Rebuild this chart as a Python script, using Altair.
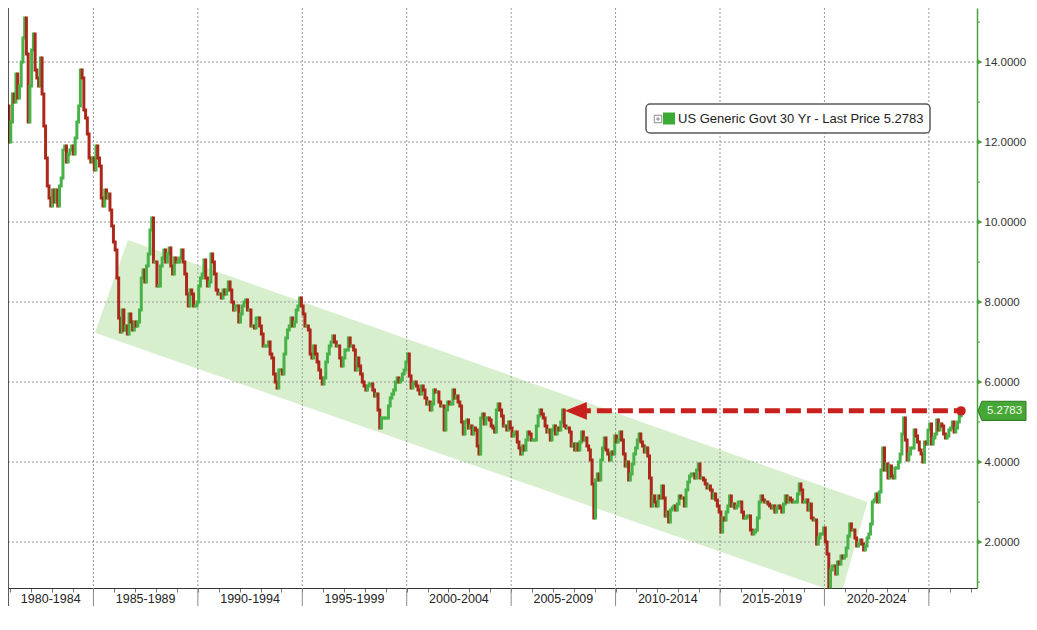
import altair as alt
import pandas as pd

# ---------------- data (monthly closes) ----------------
FIRST_MONTH = (1980, 12)
OPEN_FIRST = 12.9

C1980_84 = [12.0,
            12.5, 13.2, 13.0, 13.7, 13.1, 13.4, 14.0, 14.6, 15.1, 14.2, 12.5, 13.4,
            14.3, 14.7, 13.8, 13.6, 13.4, 14.1, 13.2, 12.4, 11.6, 10.9, 10.6, 10.4,
            10.8, 10.5, 10.8, 10.4, 10.9, 11.1, 11.8, 11.9, 11.5, 11.7, 11.8, 11.9,
            11.7, 12.1, 12.5, 12.9, 13.8, 13.6, 12.8, 12.6, 12.2, 11.6, 11.5, 11.6]
C1985_89 = [11.3, 11.9, 11.6, 11.4, 10.6, 10.4, 10.8, 10.6, 10.7, 10.3, 9.9, 9.5,
            9.3, 8.6, 7.6, 7.25, 7.8, 7.3, 7.4, 7.2, 7.7, 7.5, 7.3, 7.5,
            7.4, 7.5, 7.8, 8.6, 8.8, 8.5, 8.9, 9.2, 9.8, 10.1, 9.0, 9.0,
            8.4, 8.4, 8.9, 9.1, 9.3, 9.0, 9.2, 9.35, 8.9, 8.7, 9.1, 9.0,
            9.0, 9.1, 9.3, 9.0, 8.7, 8.2, 7.9, 8.3, 8.2, 7.9, 7.9, 8.0]
C1990_94 = [8.4, 8.6, 8.7, 9.05, 8.6, 8.4, 8.5, 9.2, 9.0, 8.7, 8.3, 8.2,
            8.2, 8.1, 8.3, 8.2, 8.3, 8.5, 8.3, 8.0, 7.8, 7.9, 7.9, 7.5,
            7.7, 7.9, 8.0, 8.05, 7.8, 7.8, 7.4, 7.4, 7.35, 7.6, 7.6, 7.4,
            7.2, 6.9, 6.9, 6.9, 7.0, 6.7, 6.6, 6.2, 6.0, 5.85, 6.3, 6.3,
            6.2, 6.7, 7.1, 7.3, 7.4, 7.6, 7.4, 7.5, 7.8, 7.9, 8.1, 7.9]
C1995_99 = [7.7, 7.4, 7.4, 7.3, 6.7, 6.6, 6.9, 6.7, 6.5, 6.3, 6.1, 5.95,
            6.1, 6.5, 6.7, 6.9, 7.0, 7.15, 7.0, 6.9, 6.9, 6.6, 6.4, 6.6,
            6.8, 6.8, 7.1, 6.9, 6.9, 6.8, 6.3, 6.6, 6.4, 6.2, 6.0, 5.9,
            5.8, 5.9, 5.95, 5.95, 5.8, 5.65, 5.7, 5.3, 4.85, 5.1, 5.1, 5.1,
            5.1, 5.4, 5.6, 5.7, 5.8, 6.0, 6.1, 6.0, 6.05, 6.2, 6.3, 6.5]
C2000_04 = [6.7, 6.15, 5.85, 5.95, 6.0, 5.9, 5.8, 5.7, 5.9, 5.8, 5.6, 5.45,
            5.5, 5.3, 5.45, 5.8, 5.75, 5.75, 5.5, 5.4, 5.4, 4.8, 5.3, 5.5,
            5.45, 5.45, 5.8, 5.6, 5.65, 5.5, 5.4, 5.0, 4.7, 5.0, 5.05, 4.85,
            4.9, 4.7, 4.85, 4.8, 4.4, 4.2, 5.1, 5.2, 4.95, 5.1, 5.1, 5.05,
            4.9, 4.85, 4.75, 5.3, 5.45, 5.3, 5.15, 4.9, 4.9, 4.8, 5.0, 4.85]
C2005_09 = [4.65, 4.7, 4.75, 4.5, 4.35, 4.2, 4.4, 4.3, 4.55, 4.75, 4.7, 4.55,
            4.55, 4.55, 4.9, 5.15, 5.3, 5.2, 5.1, 4.9, 4.75, 4.8, 4.55, 4.8,
            4.9, 4.7, 4.85, 4.8, 5.0, 5.3, 4.9, 4.85, 4.85, 4.75, 4.4, 4.45,
            4.3, 4.45, 4.3, 4.5, 4.75, 4.55, 4.6, 4.4, 4.3, 4.05, 3.45, 2.6,
            3.55, 3.7, 3.55, 4.05, 4.35, 4.6, 4.3, 4.2, 4.05, 4.25, 4.2, 4.65]
C2010_14 = [4.5, 4.55, 4.75, 4.55, 4.2, 3.9, 4.0, 3.55, 3.7, 3.95, 4.2, 4.35,
            4.55, 4.7, 4.5, 4.4, 4.25, 4.35, 4.15, 3.6, 2.9, 3.15, 3.0, 2.9,
            3.15, 3.1, 3.4, 3.1, 2.65, 2.75, 2.5, 2.8, 2.85, 2.9, 2.8, 2.95,
            3.15, 3.1, 3.1, 2.9, 3.3, 3.5, 3.65, 3.7, 3.7, 3.6, 3.8, 3.95,
            3.6, 3.6, 3.55, 3.45, 3.35, 3.4, 3.3, 3.1, 3.2, 3.05, 2.9, 2.75]
C2015_19 = [2.25, 2.6, 2.55, 2.75, 2.9, 3.15, 2.9, 2.95, 2.85, 2.9, 3.0, 3.0,
            2.75, 2.6, 2.6, 2.65, 2.65, 2.3, 2.2, 2.25, 2.3, 2.6, 3.0, 3.15,
            3.05, 3.0, 3.0, 2.95, 2.9, 2.85, 2.9, 2.75, 2.85, 2.9, 2.85, 2.75,
            2.95, 3.15, 3.0, 3.1, 3.05, 3.0, 3.0, 3.0, 3.2, 3.45, 3.3, 3.0,
            3.0, 3.05, 2.8, 2.95, 2.6, 2.55, 2.55, 1.95, 2.1, 2.2, 2.2, 2.35]
C2020_24 = [2.0, 1.7, 0.88, 1.3, 1.4, 1.4, 1.2, 1.5, 1.45, 1.65, 1.6, 1.65,
            1.85, 2.15, 2.45, 2.3, 2.3, 2.1, 1.9, 1.95, 2.05, 1.95, 1.8, 1.9,
            2.1, 2.2, 2.45, 3.0, 3.05, 3.2, 3.0, 3.25, 3.8, 4.35, 3.8, 3.95,
            3.6, 3.9, 3.65, 3.6, 3.85, 3.85, 4.0, 4.2, 4.7, 5.1, 4.55, 4.05,
            4.2, 4.35, 4.35, 4.8, 4.65, 4.5, 4.3, 4.2, 4.0, 4.5, 4.45, 4.8]
C2025_26 = [4.95, 4.45, 4.6, 4.7, 5.05, 4.8, 4.95, 4.9, 4.7, 4.6, 4.65, 4.8,
            4.85, 5.0, 4.75, 4.85, 5.0, 5.15, 5.2783]

LAST_PRICE = 5.2783
ARROW_FROM = 2008.1      # arrow head (year)
ARROW_TO = 2026.54       # red dot at the last price (year)

# channel corners (year, yield)
CH_LL = (1985.07, 7.23)
CH_TL = (1986.65, 9.55)
CH_BR = (2020.81, 0.70)
CH_TR = (2022.06, 3.00)

Y_MAJOR = [2, 4, 6, 8, 10, 12, 14]
Y_MINOR = [1, 3, 5, 7, 9, 11, 13, 15]
YEAR_TICKS = list(range(1981, 2028))
GRID_YEARS = [1985, 1990, 1995, 2000, 2005, 2010, 2015, 2020, 2025]
PERIODS = ["1980-1984", "1985-1989", "1990-1994", "1995-1999", "2000-2004",
           "2005-2009", "2010-2014", "2015-2019", "2020-2024"]
PERIOD_START = [1980, 1985, 1990, 1995, 2000, 2005, 2010, 2015, 2020]
LEGEND_TEXT = "US Generic Govt 30 Yr - Last Price 5.2783"
LABEL_TEXT = "5.2783"

# ---------------- build tables ----------------
W, H = 969, 580
X_MIN = 1980.91
X_MAX = X_MIN + W / 20.886
Y_MIN, Y_MAX = 0.85, 15.35

closes = (C1980_84 + C1985_89 + C1990_94 + C1995_99 + C2000_04 +
          C2005_09 + C2010_14 + C2015_19 + C2020_24 + C2025_26)
rows = []
prev = OPEN_FIRST
y0, m0 = FIRST_MONTH
for i, c in enumerate(closes):
    mi = (m0 - 1) + i
    t = y0 + mi // 12 + ((mi % 12) + 0.5) / 12
    rows.append({"t": t, "open": prev, "close": c,
                 "dir": "up" if c >= prev else "down"})
    prev = c
candles = pd.DataFrame(rows)


def on_line(p, q, x):
    return p[1] + (q[1] - p[1]) * (x - p[0]) / (q[0] - p[0])


channel = pd.DataFrame({
    "t": [CH_LL[0], CH_TL[0], CH_BR[0], CH_TR[0]],
    "hi": [CH_LL[1], CH_TL[1], on_line(CH_TL, CH_TR, CH_BR[0]), CH_TR[1]],
    "lo": [CH_LL[1], on_line(CH_LL, CH_BR, CH_TL[0]), CH_BR[1], CH_TR[1]],
})

periods = pd.DataFrame({
    "label": PERIODS,
    "c": [((max(s, X_MIN) + s + 5) / 2) for s in PERIOD_START],
})

XS = alt.Scale(domain=[X_MIN, X_MAX], nice=False, zero=False)
YS = alt.Scale(domain=[Y_MIN, Y_MAX], nice=False, zero=False)

GREEN_AX = "#4aa23c"
RED = "#c8201c"
FONT = "Liberation Sans"

X_AX = alt.Axis(values=YEAR_TICKS, labels=False, title=None, grid=False,
                tickSize=4, tickColor="#777777", domainColor="#333333",
                domainWidth=1)
Y_AX = alt.Axis(orient="right", values=Y_MAJOR, format=".4f", title=None,
                grid=False, labelFont=FONT, labelFontSize=11.5,
                labelColor="#333333", labelPadding=3, tickSize=4,
                tickColor=GREEN_AX, domainColor=GREEN_AX, domainWidth=1.5)

one = alt.Data(values=[{}])

area = alt.Chart(channel).mark_area(color="#d7efcd", clip=True).encode(
    x=alt.X("t:Q", scale=XS, axis=None),
    y=alt.Y("hi:Q", scale=YS, axis=None),
    y2="lo:Q",
)

hgrid = alt.Chart(pd.DataFrame({"v": Y_MAJOR})).mark_rule(
    color="#999999", strokeDash=[2, 2], strokeWidth=1).encode(
    y=alt.Y("v:Q", scale=YS, axis=None),
    x=alt.value(0), x2=alt.value(W),
)

vgrid = alt.Chart(pd.DataFrame({"yr": GRID_YEARS})).mark_rule(
    color="#999999", strokeDash=[2, 2], strokeWidth=1).encode(
    x=alt.X("yr:Q", scale=XS, axis=None),
    y=alt.value(0), y2=alt.value(H),
)

bars = alt.Chart(candles).mark_rule(strokeWidth=3, strokeCap="square").encode(
    x=alt.X("t:Q", scale=XS, axis=X_AX),
    y=alt.Y("open:Q", scale=YS, axis=Y_AX),
    y2="close:Q",
    color=alt.Color("dir:N", scale=alt.Scale(domain=["up", "down"],
                                             range=["#47b247", "#ab281b"]),
                    legend=None),
)

arrow_df = pd.DataFrame({"a": [ARROW_FROM], "b": [ARROW_TO], "v": [LAST_PRICE]})
arrow = alt.Chart(arrow_df).mark_rule(color=RED, strokeWidth=5,
                                      strokeDash=[15, 6]).encode(
    x=alt.X("a:Q", scale=XS, axis=None), x2="b:Q",
    y=alt.Y("v:Q", scale=YS, axis=None),
)
head = alt.Chart(arrow_df).mark_point(
    shape="M -1 0 L 1 -0.8 L 1 0.8 Z", size=484, filled=True,
    color=RED, opacity=1).encode(
    x=alt.X("a:Q", scale=XS, axis=None),
    y=alt.Y("v:Q", scale=YS, axis=None),
)
dot = alt.Chart(arrow_df).mark_point(shape="circle", size=90, filled=True,
                                     color=RED, opacity=1).encode(
    x=alt.X("b:Q", scale=XS, axis=None),
    y=alt.Y("v:Q", scale=YS, axis=None),
)

# legend box
leg_box = alt.Chart(one).mark_rect(fill="white", stroke="#5a5a5a",
                                   strokeWidth=1.5, cornerRadius=4).encode(
    x=alt.value(638), x2=alt.value(922), y=alt.value(96), y2=alt.value(125))
leg_icon = alt.Chart(one).mark_point(
    shape="M -1 -1 L 1 -1 L 1 1 L -1 1 Z M -0.55 0 L 0.55 0 M 0 -0.55 L 0 0.55",
    size=56, filled=False, color="#8a8a8a", strokeWidth=1, opacity=1).encode(
    x=alt.value(650), y=alt.value(111))
leg_sq = alt.Chart(one).mark_point(shape="square", size=144, filled=True,
                                   color="#3aaa35", opacity=1).encode(
    x=alt.value(661), y=alt.value(110.5))
leg_txt = alt.Chart(one).mark_text(align="left", baseline="middle", font=FONT,
                                   fontSize=13, color="#222222",
                                   text=LEGEND_TEXT).encode(
    x=alt.value(670), y=alt.value(111))

# last-price tag on the axis
tag_df = pd.DataFrame({"v": [LAST_PRICE], "s": [LABEL_TEXT]})
tag = alt.Chart(tag_df).mark_point(
    shape="M -1 0 L -0.84 -0.4 L 1 -0.4 L 1 0.4 L -0.84 0.4 Z",
    size=2304, filled=True, fill="#46a636", stroke="#2c7a22", strokeWidth=1,
    opacity=1).encode(
    x=alt.value(W + 25), y=alt.Y("v:Q", scale=YS, axis=None))
tag_txt = alt.Chart(tag_df).mark_text(align="center", baseline="middle",
                                      font=FONT, fontSize=11.5,
                                      color="#f2fbef").encode(
    x=alt.value(W + 27.5), y=alt.Y("v:Q", scale=YS, axis=None), text="s:N")

majors = alt.Chart(pd.DataFrame({"v": Y_MAJOR})).mark_point(
    shape="triangle-right", size=26, filled=True, color=GREEN_AX,
    opacity=1).encode(
    x=alt.value(W + 3), y=alt.Y("v:Q", scale=YS, axis=None))
minors = alt.Chart(pd.DataFrame({"v": Y_MINOR})).mark_rule(
    color=GREEN_AX, strokeWidth=1).encode(
    y=alt.Y("v:Q", scale=YS, axis=None), x=alt.value(W), x2=alt.value(W + 3))

# bottom period separators and labels
seps = alt.Chart(pd.DataFrame({"yr": GRID_YEARS})).mark_rule(
    color="#8a8a8a", strokeWidth=1).encode(
    x=alt.X("yr:Q", scale=XS, axis=None),
    y=alt.value(H), y2=alt.value(H + 18))
plabels = alt.Chart(periods).mark_text(baseline="middle", align="center",
                                       font=FONT, fontSize=12.5,
                                       color="#222222").encode(
    x=alt.X("c:Q", scale=XS, axis=None), y=alt.value(H + 11), text="label:N")
left_line = alt.Chart(one).mark_rule(color="#222222", strokeWidth=1.5).encode(
    x=alt.value(0), y=alt.value(0), y2=alt.value(H + 18))

chart = alt.layer(
    area, hgrid, vgrid, bars, arrow, head, dot,
    leg_box, leg_icon, leg_sq, leg_txt,
    majors, minors, tag, tag_txt, seps, plabels, left_line,
).resolve_axis(
    x="independent", y="independent"
).properties(
    width=W, height=H,
    autosize=alt.AutoSizeParams(type="none"),
    padding={"left": 0, "top": 0, "right": 50, "bottom": 18},
    background="white",
).configure_view(strokeWidth=0)

chart.save("out.html", embed_options={"renderer": "svg", "actions": False})
